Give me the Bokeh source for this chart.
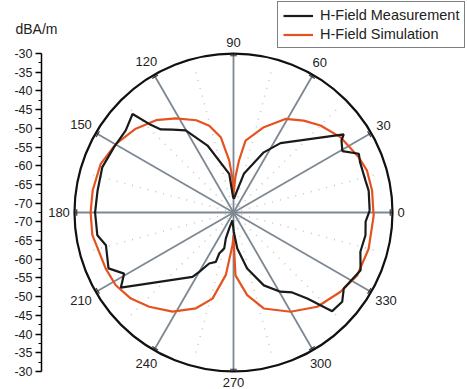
import numpy as np
from bokeh.plotting import figure
from bokeh.models import (LinearAxis, FixedTicker, CustomJSTickFormatter, Range1d,
                          Legend, LegendItem, Label)
from bokeh.core.properties import value
from bokeh.embed import file_html
from bokeh.resources import INLINE

# ---------------- data ----------------
R_CENTER_DB = -72.5   # dB value at the centre of the polar plot
R_OUTER_DB = -30.0    # dB value at the outer circle

sim_angle = [0, 9, 17.4, 23.8, 35, 45, 52.6, 61, 70.4, 80.5, 84, 87, 90, 92, 94.7,
             99.6, 105.6, 112, 121.5, 130, 139.4, 149.7, 159.9, 171, 180, 189,
             203.7, 211.7, 220, 228.2, 238.4, 248.6, 256.3, 263, 268.3, 270, 271.2,
             271.8, 279.4, 287.5, 299.9, 311.6, 323.5, 333, 345, 359, 360]
sim_db = [-35.1, -35.0, -35.1, -35.9, -37.5, -39.6, -41.6, -43.9, -48.3, -53.0,
          -58.6, -63.1, -67.7, -63.1, -58.6, -52.1, -48.4, -45.9, -43.0, -40.3,
          -38.1, -36.1, -34.7, -34.4, -34.3, -34.3, -35.2, -35.5, -36.7, -38.7,
          -41.4, -45.0, -48.8, -55.7, -63.8, -66.4, -61.3, -55.7, -50.1, -45.6,
          -41.9, -38.8, -36.9, -35.4, -35.1, -35.0, -35.1]

meas_angle = [0.8, 9.2, 13.6, 21.7, 25.1, 29.4, 33.7, 35.3, 55.9, 63.3, 75, 80.5,
              88, 92, 96.3, 111.2, 120.2, 126.3, 131.2, 133.6, 135.7, 142.7, 151.3,
              160.9, 170.8, 180, 189.5, 194.4, 204.1, 209.2, 213.7, 237.5, 240,
              244.5, 250.3, 250.8, 255.5, 253.5, 255, 262, 271, 276, 283.7, 292.6,
              300.6, 306.3, 310.6, 315, 320.6, 325.4, 335.6, 342.8, 350.2, 356, 360.8]
meas_db = [-36.1, -35.9, -36.2, -36.1, -35.5, -39.1, -37.8, -36.4, -50.1, -54.5,
           -61.8, -66.5, -68.8, -68.2, -62.1, -53.3, -47.1, -45.0, -43.0, -39.8,
           -34.8, -36.3, -36.1, -35.4, -35.7, -35.5, -35.6, -37.3, -35.9, -39.0,
           -36.3, -52.1, -54.2, -57.4, -58.5, -60.9, -62.6, -65.3, -68.1, -70.4,
           -67.3, -62.8, -57.1, -51.4, -47.9, -46.0, -42.2, -35.2, -34.9, -36.7,
           -35.2, -37.0, -36.7, -37.1, -36.1]

spoke_angles = [0, 30, 60, 90, 120, 150, 180, 210, 240, 270, 300, 330]
spoke_labels = ["0", "30", "60", "90", "120", "150", "180", "210", "240", "270", "300", "330"]
minor_spoke_angles = [15, 45, 75, 105, 135, 165, 195, 225, 255, 285, 315, 345]
axis_major_db = [-30, -35, -40, -45, -50, -55, -60, -65, -70]
axis_minor_db = [-32.5, -37.5, -42.5, -47.5, -52.5, -57.5, -62.5, -67.5, -72.5]

# ---------------- helpers ----------------
def to_r(db):
    return np.asarray(db, dtype=float) - R_CENTER_DB

def polar_xy(angle_deg, db):
    a = np.deg2rad(np.asarray(angle_deg, dtype=float))
    r = to_r(db)
    return r * np.cos(a), r * np.sin(a)

R_OUT = float(to_r(R_OUTER_DB))
PX = 159.0 / R_OUT          # pixels per data unit
W, H = 467, 389
AXIS_X = 41                 # pixel column of the radial scale axis
CX, CY = 233.0, 212.0       # centre in pixels

x_range = Range1d(-CX / PX, (W - CX) / PX)
y_range = Range1d(-(H - CY) / PX, CY / PX)

p = figure(width=W, height=H, x_range=x_range, y_range=y_range,
           x_axis_type=None, y_axis_type=None, output_backend="svg",
           toolbar_location=None, min_border_left=0, min_border_right=0,
           min_border_top=0, min_border_bottom=0)
p.outline_line_color = None
p.grid.visible = False
p.background_fill_color = "white"

# minor dotted radial lines
ma = np.deg2rad(minor_spoke_angles)
rm = R_OUT * 0.93
p.segment(x0=0, y0=0, x1=rm * np.cos(ma), y1=rm * np.sin(ma),
          line_color="#c4c4c4", line_width=1.5, line_dash="1 7")

# major spokes
sa = np.deg2rad(spoke_angles)
p.segment(x0=0, y0=0, x1=R_OUT * np.cos(sa), y1=R_OUT * np.sin(sa),
          line_color="#7d8893", line_width=1.8)
# small ticks at spoke ends
rt = R_OUT - 0.6
hl = 0.9
p.segment(x0=rt * np.cos(sa) - hl * np.sin(sa), y0=rt * np.sin(sa) + hl * np.cos(sa),
          x1=rt * np.cos(sa) + hl * np.sin(sa), y1=rt * np.sin(sa) - hl * np.cos(sa),
          line_color="#333333", line_width=1.2)

# outer circle
p.circle(x=[0], y=[0], radius=R_OUT, fill_color=None, line_color="#111111", line_width=2.2)

# curves
sx, sy = polar_xy(sim_angle, sim_db)
mx, my = polar_xy(meas_angle, meas_db)
sim_r = p.line(sx, sy, line_color="#e4531f", line_width=2.2)
meas_r = p.line(mx, my, line_color="#1a1a1a", line_width=2.2)

# angle labels (distance grows with the text box in the label's direction)
lab_w = np.array([7.0 * len(s) for s in spoke_labels])
lab_d = (164.0 + np.abs(np.cos(sa)) * lab_w / 2 + np.abs(np.sin(sa)) * 6.0) / PX
p.text(x=lab_d * np.cos(sa), y=lab_d * np.sin(sa), text=spoke_labels,
       text_font=value("Liberation Sans"), text_font_size="13px",
       text_align="center", text_baseline="middle", text_color="#222222")

# left radial scale axis, drawn at a fixed location inside the frame
major = sorted([float(to_r(d)) for d in axis_major_db] + [-float(to_r(d)) for d in axis_major_db])
minor = sorted(set([float(to_r(d)) for d in axis_minor_db] + [-float(to_r(d)) for d in axis_minor_db]))
ax = LinearAxis(ticker=FixedTicker(ticks=major, minor_ticks=minor),
                formatter=CustomJSTickFormatter(
                    code="return String(Math.round(Math.abs(tick) + (%s)))" % R_CENTER_DB))
ax.fixed_location = (AXIS_X - CX) / PX
ax.bounds = (-R_OUT, R_OUT)
ax.axis_line_color = "black"
ax.axis_line_width = 1.5
ax.major_tick_out = 6
ax.major_tick_in = 0
ax.minor_tick_out = 3
ax.minor_tick_in = 0
ax.major_tick_line_width = 1.3
ax.minor_tick_line_width = 1.2
ax.major_tick_line_color = "black"
ax.minor_tick_line_color = "black"
ax.major_label_text_font = "Liberation Sans"
ax.major_label_text_font_size = "12.5px"
ax.major_label_text_color = "#222222"
ax.major_label_standoff = 3
p.add_layout(ax, "left")

p.add_layout(Label(x=15, y=H - 28, x_units="screen", y_units="screen",
                   text="dBA/m", text_font="Liberation Sans", text_font_size="14px",
                   text_baseline="middle", text_align="left", text_color="#222222"))

legend = Legend(items=[LegendItem(label="H-Field Measurement", renderers=[meas_r]),
                       LegendItem(label="H-Field Simulation", renderers=[sim_r])],
                location=(277, H - 48))
legend.label_text_font = "Liberation Sans"
legend.label_text_font_size = "14.5px"
legend.label_text_color = "#222222"
legend.label_height = 15
legend.glyph_height = 15
legend.glyph_width = 30
legend.label_standoff = 7
legend.spacing = 3
legend.padding = 5
legend.margin = 0
legend.border_line_color = "black"
legend.border_line_width = 1.5
legend.background_fill_color = "white"
legend.background_fill_alpha = 1.0
p.add_layout(legend)

open("out.html", "w").write(file_html(p, INLINE))
